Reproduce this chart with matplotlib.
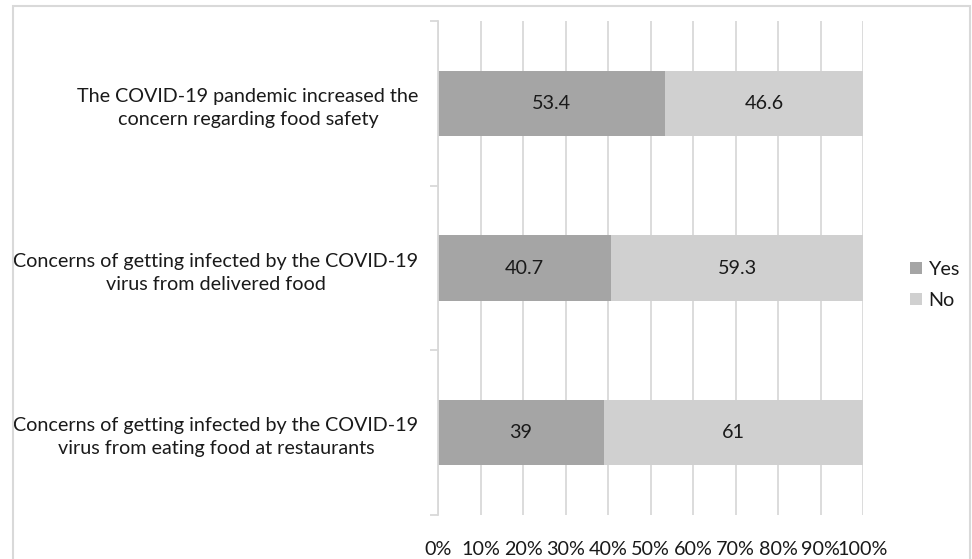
import matplotlib
matplotlib.use("Agg")
import matplotlib.pyplot as plt
from matplotlib.patches import Rectangle
import numpy as np

categories = [
    "The COVID-19 pandemic increased the\nconcern regarding food safety",
    "Concerns of getting infected by the COVID-19\nvirus from delivered food",
    "Concerns of getting infected by the COVID-19\nvirus from eating food at restaurants",
]
yes_values = [53.4, 40.7, 39]
no_values = [46.6, 59.3, 61]
yes_labels = ["53.4", "40.7", "39"]
no_labels = ["46.6", "59.3", "61"]
tick_values = list(range(0, 101, 10))
tick_labels = [f"{v}%" for v in tick_values]

plt.rcParams["font.family"] = ["Lato", "DejaVu Sans"]

W, H = 972, 559
fig = plt.figure(figsize=(W / 100, H / 100), dpi=100)
fig.patch.set_facecolor("white")

# outer chart frame
fig.patches.append(Rectangle((13 / W, -0.05), (970 - 13) / W, 1.05 - 6 / H,
                             transform=fig.transFigure, fill=False,
                             edgecolor="#d9d9d9", linewidth=1.5, zorder=0))

ax = fig.add_axes([438 / W, 1 - 515 / H, (863 - 438) / W, (515 - 21) / H])

fs = 14.2
txt = "#1a1a1a"
y = np.arange(len(categories))
yes_color = "#a5a5a5"
no_color = "#d0d0d0"
bh = 0.395
ax.barh(y, yes_values, height=bh, color=yes_color, label="Yes", zorder=2)
ax.barh(y, no_values, left=yes_values, height=bh, color=no_color, label="No", zorder=2)

for i in range(len(categories)):
    ax.text(yes_values[i] / 2, y[i], yes_labels[i], ha="center", va="center",
            fontsize=fs, color=txt, zorder=3)
    ax.text(yes_values[i] + no_values[i] / 2, y[i], no_labels[i], ha="center",
            va="center", fontsize=fs, color=txt, zorder=3)

ax.set_xlim(0, 100)
ax.set_ylim(len(categories) - 0.5, -0.5)
ax.set_xticks(tick_values)
ax.set_xticklabels(tick_labels, fontsize=fs, color=txt)
ax.set_yticks(y)
ax.set_yticklabels(categories, fontsize=fs, color=txt, multialignment="center",
                   linespacing=1.45)
ax.set_yticks(np.arange(-0.5, len(categories), 1.0), minor=True)

ax.tick_params(axis="x", length=0, pad=19)
ax.tick_params(axis="y", which="major", length=0, pad=14)
ax.tick_params(axis="y", which="minor", length=6, color="#d9d9d9", width=1.3)

ax.grid(axis="x", color="#d9d9d9", linewidth=1.3, zorder=0)
ax.set_axisbelow(True)
for s in ["top", "right", "bottom"]:
    ax.spines[s].set_visible(False)
ax.spines["left"].set_color("#d9d9d9")
ax.spines["left"].set_linewidth(1.3)

leg = fig.legend(loc="center left", bbox_to_anchor=(900 / W, 1 - 285 / H),
                 frameon=False, fontsize=fs, handlelength=0.6, handleheight=0.6,
                 handletextpad=0.35, labelspacing=0.7, borderpad=0)
for t in leg.get_texts():
    t.set_color(txt)

fig.savefig("out.png", dpi=100)
